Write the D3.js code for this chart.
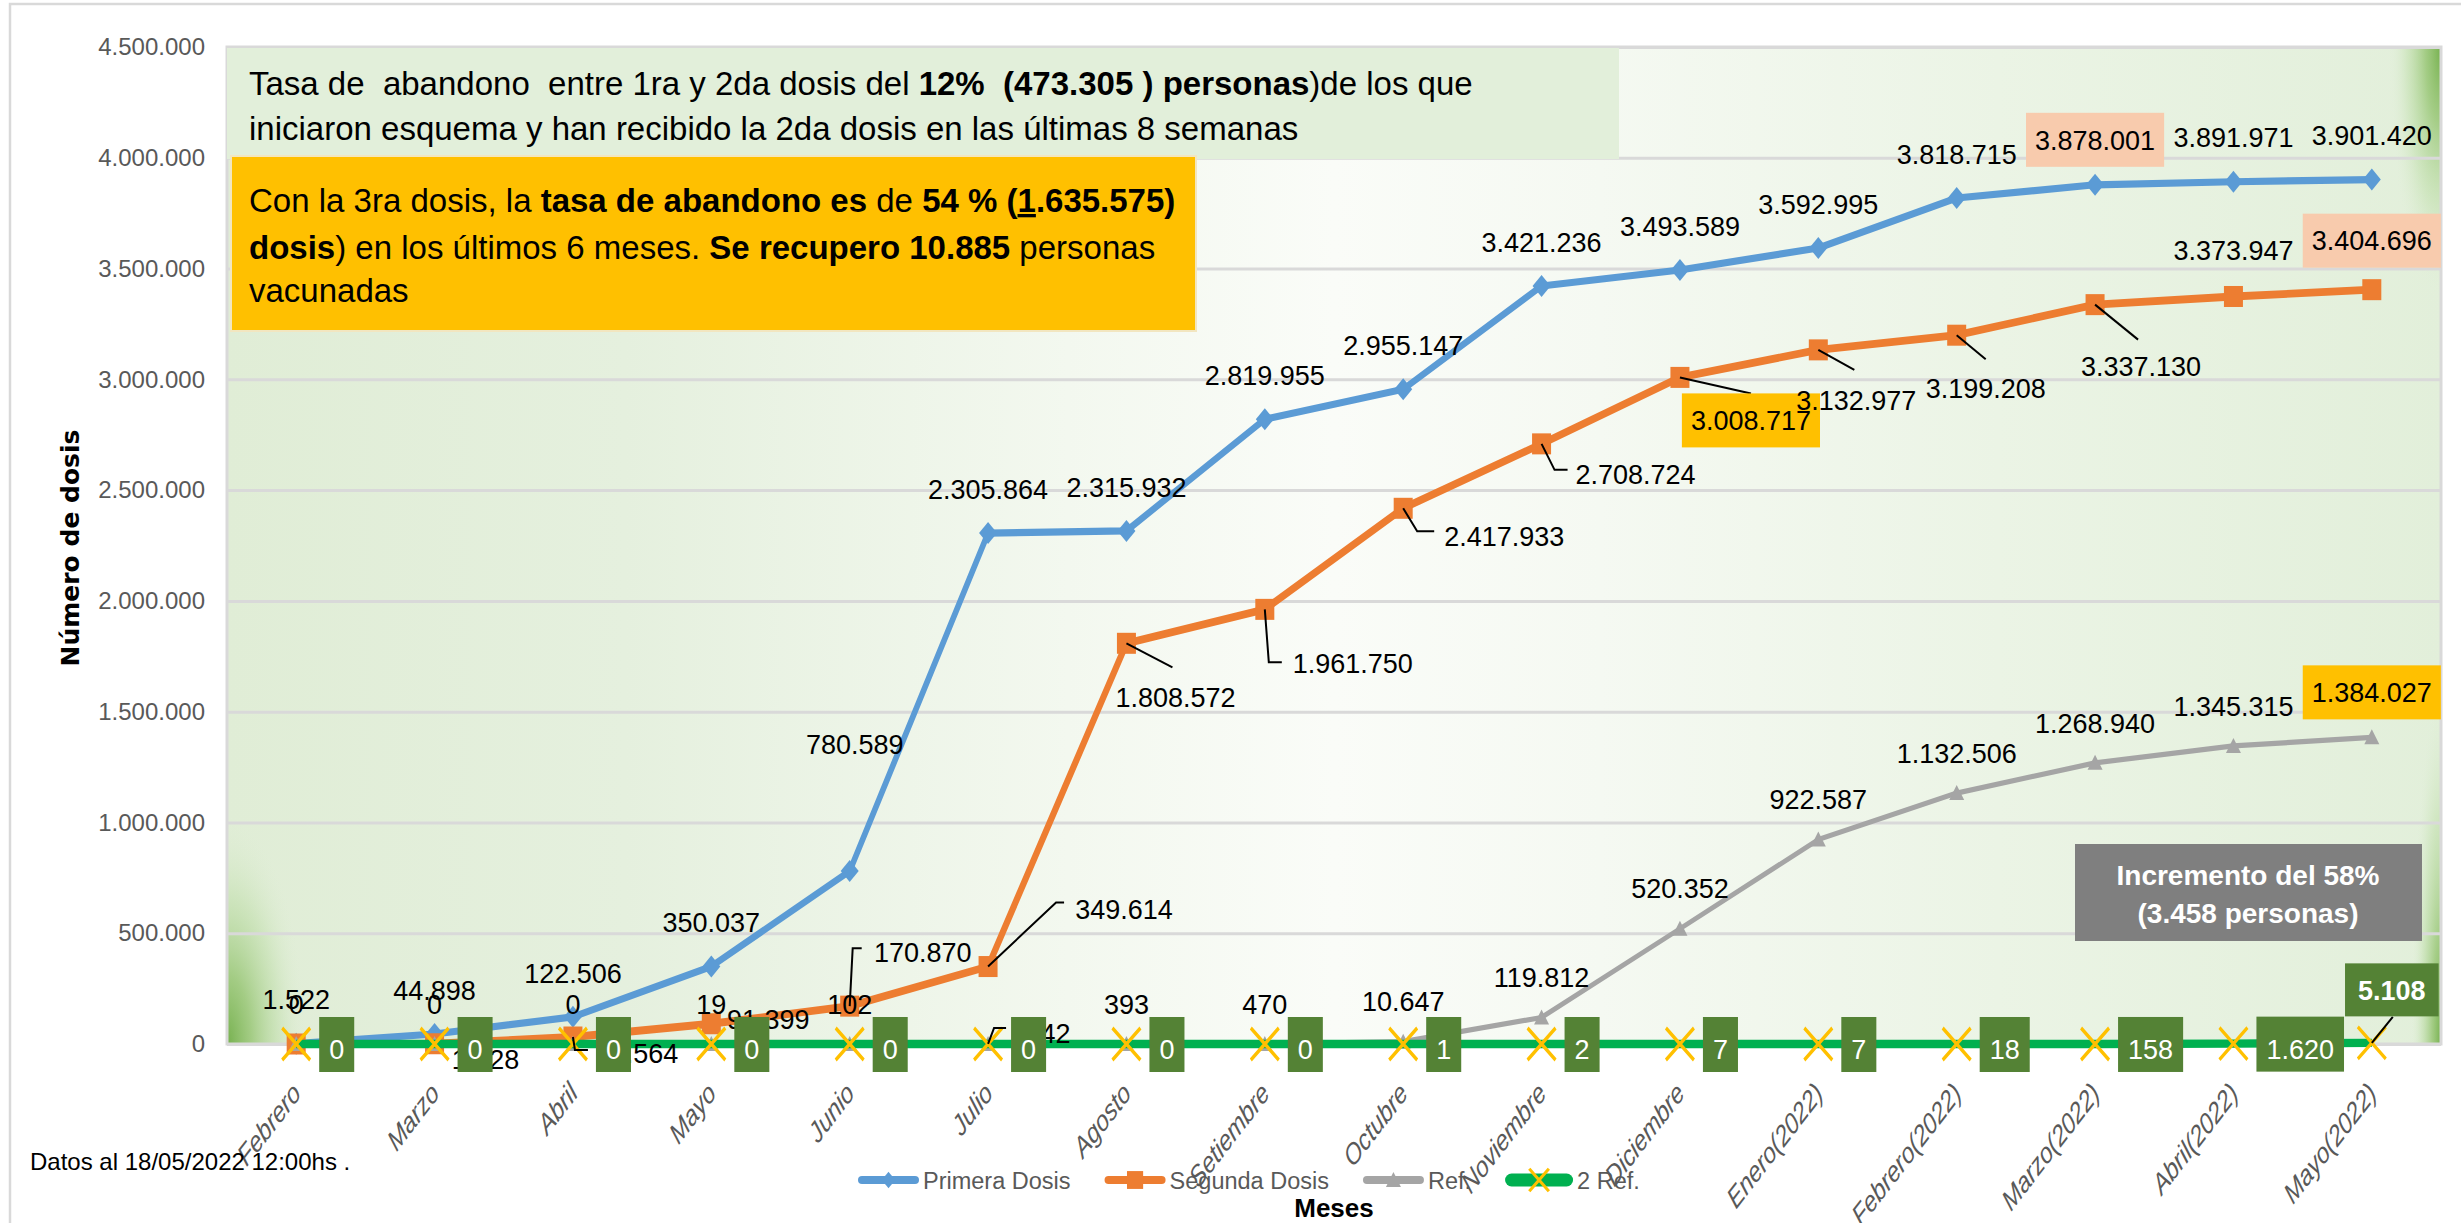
<!DOCTYPE html>
<html><head><meta charset="utf-8">
<script src="https://cdn.jsdelivr.net/npm/d3@7"></script>
<style>
body{margin:0;background:#fff;}
svg{display:block;font-family:"Liberation Sans",Arial,sans-serif;}
text{white-space:pre;}
</style></head><body>
<svg id="c" width="2461" height="1223"></svg>
<script>
// ---------------- DATA ----------------
const categories = ["Febrero","Marzo","Abril","Mayo","Junio","Julio","Agosto","Setiembre","Octubre","Noviembre","Diciembre","Enero(2022)","Febrero(2022)","Marzo(2022)","Abril(2022)","Mayo(2022)"];
const primeraDosis = [1522,44898,122506,350037,780589,2305864,2315932,2819955,2955147,3421236,3493589,3592995,3818715,3878001,3891971,3901420];
const segundaDosis = [0,1128,31564,91399,170870,349614,1808572,1961750,2417933,2708724,3008717,3132977,3199208,3337130,3373947,3404696];
const refuerzo = [0,0,0,19,102,242,393,470,10647,119812,520352,922587,1132506,1268940,1345315,1384027];
const segundoRefuerzo = [0,0,0,0,0,0,0,0,1,2,7,7,18,158,1620,5108];
const yTicks = [0,500000,1000000,1500000,2000000,2500000,3000000,3500000,4000000,4500000];
const seriesNames = ["Primera Dosis","Segunda Dosis","Ref.","2 Ref."];

// ---------------- LAYOUT ----------------
const P = {l:227, r:2441, t:47, b:1044};
const K = 1.3; // vertical stretch of the original picture (pen shape)
const svg = d3.select("#c");
const x = d3.scaleBand().domain(categories).range([P.l, P.r]).padding(0);
const xc = i => x(categories[i]) + x.bandwidth()/2;
const y = d3.scaleLinear().domain([0, 4500000]).range([P.b, P.t]);
const yS = d3.scaleLinear().domain([0, 4500000]).range([P.b/K, P.t/K]); // same scale in stretched space
const loc = d3.formatLocale({decimal:",", thousands:".", grouping:[3], currency:["",""]});
const fmt = loc.format(",d");

// label layout (offsets of label centre from point)
const labPrimera = categories.map(()=>({dx:0, dy:-44}));
labPrimera[4] = {dx:5, dy:-127};
labPrimera[13] = {dx:0, dy:-45, fill:"#F8CBAD"};
const labSegunda = [
 null,
 {dx:51, dy:16},
 {dx:64, dy:16, leader:[[0,0],[2,13],[15,13]]},
 {dx:57, dy:-4},
 {dx:73, dy:-54, leader:[[0,0],[3,-58],[12,-58]]},
 {dx:136, dy:-57, leader:[[0,0],[68,-64],[76,-64]]},
 {dx:49, dy:54, leader:[[0,0],[46,24]]},
 {dx:88, dy:54, leader:[[0,0],[4,53],[17,53]]},
 {dx:101, dy:28, leader:[[0,0],[14,23],[31,23]]},
 {dx:94, dy:30, leader:[[0,0],[13,26],[26,26]]},
 {dx:71, dy:43, leader:[[0,0],[71,16]], fill:"#FFC000"},
 {dx:38, dy:50, leader:[[0,0],[36,20]]},
 {dx:29, dy:53, leader:[[0,0],[29,24]]},
 {dx:46, dy:62, leader:[[0,0],[43,35]]},
 {dx:0, dy:-46},
 {dx:0, dy:-49, fill:"#F8CBAD"}
];
const labRef = categories.map(()=>({dx:0, dy:-40}));
labRef[5] = {dx:60, dy:-11, leader:[[0,0],[6,-16],[18,-16]]};
labRef[15] = {dx:0, dy:-45, fill:"#FFC000"};

const C = {blue:"#5B9BD5", orange:"#ED7D31", gray:"#A5A5A5", green:"#00B050", dgreen:"#548235", yellow:"#FFC000"};

// ---------------- DEFS ----------------
const defs = svg.append("defs");
const bg = defs.append("linearGradient").attr("id","bg").attr("x1",0).attr("x2",1).attr("y1",0).attr("y2",0);
[[0,"#E0EDD6"],[0.18,"#E5F0DE"],[0.38,"#F3F8EF"],[0.5,"#FAFCF8"],[0.62,"#F5F9F2"],[0.8,"#EBF4E5"],[1,"#E2EFDA"]]
  .forEach(s=>bg.append("stop").attr("offset",s[0]).attr("stop-color",s[1]));
function corner(id,cx,cy){
  const g = defs.append("radialGradient").attr("id",id).attr("cx",cx).attr("cy",cy).attr("fx",cx).attr("fy",cy).attr("r",1);
  [[0,"#70AD47",0.95],[0.3,"#8FC169",0.75],[0.65,"#B5D99C",0.4],[1,"#E2EFDA",0]]
    .forEach(s=>g.append("stop").attr("offset",s[0]).attr("stop-color",s[1]).attr("stop-opacity",s[2]));
}
corner("cBL",0,1); corner("cTR",1,0); corner("cBR",1,1);

// chart border
svg.append("rect").attr("x",10).attr("y",4).attr("width",2500).attr("height",1260)
  .attr("fill","#fff").attr("stroke","#D9D9D9").attr("stroke-width",2.5);

// plot background
svg.append("rect").attr("x",P.l).attr("y",P.t).attr("width",P.r-P.l).attr("height",P.b-P.t).attr("fill","url(#bg)");
svg.append("rect").attr("x",P.l).attr("y",815).attr("width",80).attr("height",P.b-815).attr("fill","url(#cBL)");
svg.append("rect").attr("x",P.r-52).attr("y",P.t).attr("width",52).attr("height",250).attr("fill","url(#cTR)");
svg.append("rect").attr("x",P.r-30).attr("y",690).attr("width",30).attr("height",P.b-690).attr("fill","url(#cBR)");

// gridlines
const grid = svg.append("g").attr("transform",`translate(${P.l},0)`)
  .call(d3.axisLeft(y).tickValues(yTicks).tickSize(-(P.r-P.l)).tickFormat(""));
grid.select(".domain").remove();
grid.selectAll("line").attr("stroke","#D9D9D9").attr("stroke-width",3);
svg.append("rect").attr("x",P.l).attr("y",P.t).attr("width",P.r-P.l).attr("height",P.b-P.t)
  .attr("fill","none").attr("stroke","#D9D9D9").attr("stroke-width",3);

// y axis labels
const ya = svg.append("g").attr("transform",`translate(${P.l},0)`)
  .call(d3.axisLeft(y).tickValues(yTicks).tickSize(0).tickPadding(22).tickFormat(fmt));
ya.select(".domain").remove();
ya.selectAll("text").attr("font-size",24).attr("fill","#595959").attr("font-family",'"Liberation Sans",Arial,sans-serif');

// x axis labels (rotated, with the picture's vertical stretch)
const xa = svg.append("g").attr("transform",`translate(0,${P.b})`)
  .call(d3.axisBottom(x).tickSize(0));
xa.select(".domain").remove();
xa.selectAll("text").attr("font-size",22.5).attr("font-style","italic").attr("fill","#595959")
  .attr("font-family",'"Liberation Sans",Arial,sans-serif')
  .attr("text-anchor","end").attr("x",0).attr("y",0).attr("dy",0)
  .attr("transform",`translate(6,51) scale(1,${K}) rotate(-45)`);

// ---------------- ANNOTATION BOXES ----------------
const ann = svg.append("g");
ann.append("rect").attr("x",227).attr("y",48).attr("width",1392).attr("height",111).attr("fill","#E2EFDA");
function richLine(g, xx, yy, parts, size, color){
  const t = g.append("text").attr("x",xx).attr("y",yy).attr("font-size",size).attr("fill",color||"#000");
  parts.forEach(p=>{
    const s = t.append("tspan").text(p[0]);
    if (p[1]) s.attr("font-weight","bold");
    if (p[2]) s.attr("text-decoration","underline");
  });
  return t;
}
richLine(ann,249,95,[["Tasa de  abandono  entre 1ra y 2da dosis del "],["12%  (473.305 ) personas",1],[")de los que"]],33);
richLine(ann,249,140,[["iniciaron esquema y han recibido la 2da dosis en las últimas 8 semanas"]],33);
ann.append("rect").attr("x",231).attr("y",156).attr("width",965).attr("height",175).attr("fill","#FFC000")
  .attr("stroke","#F2E6C0").attr("stroke-width",2);
richLine(ann,249,212,[["Con la 3ra dosis, la "],["tasa de abandono es",1],[" de "],["54 % (",1],["1",1,1],[".635.575)",1]],33);
richLine(ann,249,259,[["dosis",1],[") en los últimos 6 meses. "],["Se recupero 10.885",1],[" personas"]],33);
richLine(ann,249,302,[["vacunadas"]],33);

// ---------------- SERIES (drawn in stretched space) ----------------
const line = d3.line().x((d,i)=>xc(i)).y(d=>yS(d)).curve(d3.curveLinear);
const sG = svg.append("g").attr("transform",`scale(1,${K})`);
function marker(g, type, cx, cy, color, s, sy){
  s = s||1; sy = sy||1;
  const a = s, b = s*sy;
  if (type==="diamond") g.append("path").attr("d",`M${cx},${cy-11*b}L${cx+9*a},${cy}L${cx},${cy+11*b}L${cx-9*a},${cy}Z`).attr("fill",color);
  if (type==="square") g.append("rect").attr("x",cx-9.5*a).attr("y",cy-10.5*b).attr("width",19*a).attr("height",21*b).attr("fill",color);
  if (type==="triangle") g.append("path").attr("d",`M${cx},${cy-8*b}L${cx+7.5*a},${cy+7*b}L${cx-7.5*a},${cy+7*b}Z`).attr("fill",color);
  if (type==="x") g.append("path").attr("d",`M${cx-14*a},${cy-16*b}L${cx+14*a},${cy+16*b}M${cx-14*a},${cy+16*b}L${cx+14*a},${cy-16*b}`)
      .attr("stroke",C.yellow).attr("stroke-width",3).attr("fill","none");
}
const series = [
  {vals:primeraDosis, color:C.blue, w:5.5, m:"diamond"},
  {vals:segundaDosis, color:C.orange, w:6, m:"square"},
  {vals:refuerzo, color:C.gray, w:4, m:"triangle"},
  {vals:segundoRefuerzo, color:C.green, w:6.5, m:"x"}
];
series.forEach(s=>{
  sG.append("path").attr("d",line(s.vals)).attr("fill","none").attr("stroke",s.color)
    .attr("stroke-width",s.w).attr("stroke-linejoin","round");
  s.vals.forEach((v,i)=>marker(sG,s.m,xc(i),yS(v),s.color,1,1/K));
});

// ---------------- DATA LABELS ----------------
const leadG = svg.append("g");
const labG = svg.append("g");
function label(px,py,txt,cfg,opt){
  if(!cfg) return;
  opt = opt||{};
  if (cfg.leader) leadG.append("polyline")
     .attr("points",cfg.leader.map(p=>[px+p[0],py+p[1]].join(",")).join(" "))
     .attr("fill","none").attr("stroke","#000").attr("stroke-width",2);
  const g = labG.append("g");
  const t = g.append("text").attr("x",px+cfg.dx).attr("y",py+cfg.dy+9.7).attr("text-anchor","middle")
     .attr("font-size",27).attr("fill",opt.color||"#000").text(txt);
  if (opt.bold) t.attr("font-weight","bold");
  if (cfg.fill){
    const w = t.node().getComputedTextLength() + (opt.pad||9)*2;
    const h = opt.h||54;
    g.insert("rect","text").attr("x",px+cfg.dx-w/2).attr("y",py+cfg.dy-h/2).attr("width",w).attr("height",h).attr("fill",cfg.fill);
  }
}
primeraDosis.forEach((v,i)=>label(xc(i),y(v),fmt(v),labPrimera[i]));
segundaDosis.forEach((v,i)=>label(xc(i),y(v),fmt(v),labSegunda[i]));
refuerzo.forEach((v,i)=>label(xc(i),y(v),fmt(v),labRef[i]));
// 2 Ref labels (boxes to the right of the point)
segundoRefuerzo.forEach((v,i)=>{
  const px = xc(i), py = y(v);
  if (i===segundoRefuerzo.length-1){
    label(px,py,fmt(v),{dx:20,dy:-53,leader:[[0,0],[21,-26]],fill:C.dgreen},{color:"#fff",bold:true,pad:13,h:53});
  } else {
    const g = labG.append("g");
    const t = g.append("text").attr("font-size",27).attr("fill","#fff").attr("text-anchor","middle").text(fmt(v));
    const w = t.node().getComputedTextLength() + 20;
    t.attr("x",px+23+w/2).attr("y",py+15);
    g.insert("rect","text").attr("x",px+23).attr("y",py-27).attr("width",w).attr("height",55).attr("fill",C.dgreen);
  }
});

// gray note box
const nb = svg.append("g");
nb.append("rect").attr("x",2075).attr("y",844).attr("width",347).attr("height",97).attr("fill","#7F7F7F");
nb.append("text").attr("x",2248).attr("y",885).attr("text-anchor","middle").attr("font-size",28).attr("font-weight","bold").attr("fill","#fff").text("Incremento del 58%");
nb.append("text").attr("x",2248).attr("y",923).attr("text-anchor","middle").attr("font-size",28).attr("font-weight","bold").attr("fill","#fff").text("(3.458 personas)");

// ---------------- TITLES ----------------
svg.append("text").attr("transform","translate(79,548) rotate(-90)").attr("text-anchor","middle")
  .attr("font-family","'DejaVu Sans',Verdana,sans-serif").attr("font-weight","bold").attr("font-size",25).attr("fill","#000").text("Número de dosis");
svg.append("text").attr("x",(P.l+P.r)/2).attr("y",1217).attr("text-anchor","middle")
  .attr("font-weight","bold").attr("font-size",26).attr("fill","#000").text("Meses");
svg.append("text").attr("x",30).attr("y",1170).attr("font-size",24).attr("fill","#000").text("Datos al 18/05/2022 12:00hs .");

// ---------------- LEGEND ----------------
const lg = svg.append("g");
let lx = 858; const ly = 1180;
const legStyle = [
  {color:C.blue, w:8, m:"diamond", s:0.75},
  {color:C.orange, w:8, m:"square", s:0.85},
  {color:C.gray, w:8, m:"triangle", s:1},
  {color:C.green, w:13, m:"x", s:0.7}
];
seriesNames.forEach((n,i)=>{
  const st = legStyle[i];
  const len = i===3 ? 68 : 61;
  lg.append("line").attr("x1",lx+st.w/2).attr("x2",lx+len-st.w/2).attr("y1",ly).attr("y2",ly)
    .attr("stroke",st.color).attr("stroke-width",st.w).attr("stroke-linecap","round");
  marker(lg, st.m, lx+len/2, ly, st.color, st.s);
  const t = lg.append("text").attr("x",lx+len+4).attr("y",ly+8.5).attr("font-size",23.5).attr("fill","#595959").text(n);
  lx += len + 4 + t.node().getComputedTextLength() + 34;
});
</script>
</body></html>
